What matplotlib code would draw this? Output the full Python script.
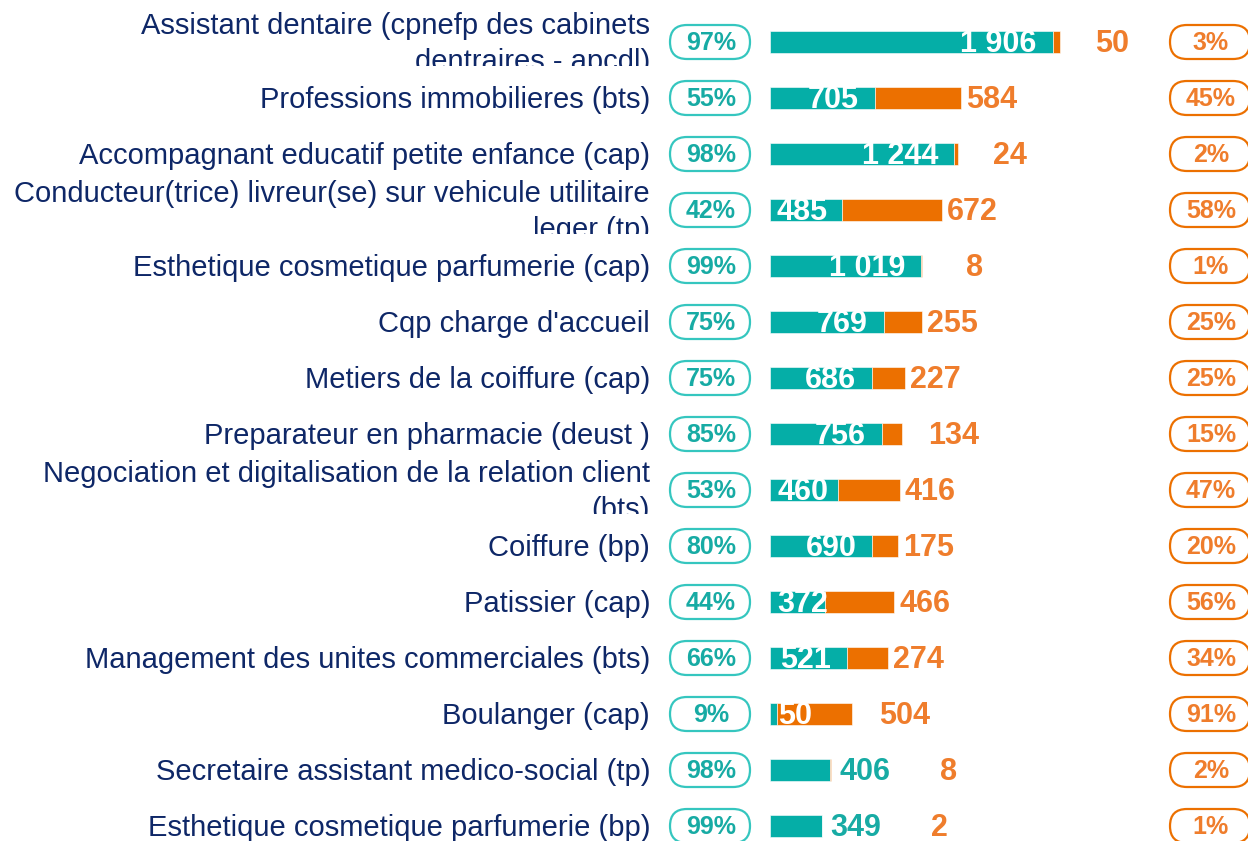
import matplotlib
matplotlib.use("Agg")
import matplotlib.pyplot as plt
from matplotlib.patches import FancyBboxPatch
from matplotlib.transforms import Bbox

plt.rcParams["font.family"] = ["Liberation Sans", "DejaVu Sans"]

labels = [
    "Assistant dentaire (cpnefp des cabinets\ndentraires - apcdl)",
    "Professions immobilieres (bts)",
    "Accompagnant educatif petite enfance (cap)",
    "Conducteur(trice) livreur(se) sur vehicule utilitaire\nleger (tp)",
    "Esthetique cosmetique parfumerie (cap)",
    "Cqp charge d'accueil",
    "Metiers de la coiffure (cap)",
    "Preparateur en pharmacie (deust )",
    "Negociation et digitalisation de la relation client\n(bts)",
    "Coiffure (bp)",
    "Patissier (cap)",
    "Management des unites commerciales (bts)",
    "Boulanger (cap)",
    "Secretaire assistant medico-social (tp)",
    "Esthetique cosmetique parfumerie (bp)",
]
teal_vals = [1906, 705, 1244, 485, 1019, 769, 686, 756, 460, 690, 372, 521, 50, 406, 349]
orange_vals = [50, 584, 24, 672, 8, 255, 227, 134, 416, 175, 466, 274, 504, 8, 2]
teal_pct = [97, 55, 98, 42, 99, 75, 75, 85, 53, 80, 44, 66, 9, 98, 99]
orange_pct = [3, 45, 2, 58, 1, 25, 25, 15, 47, 20, 56, 34, 91, 2, 1]

TEAL = "#05AEA7"
ORANGE = "#EC7000"
ORANGE_TXT = "#EF7D2C"
TEAL_TXT = "#17ABA4"
TEAL_EDGE = "#35C6BF"
NAVY = "#0E2767"

W, H = 1248, 841
ROW0, STEP = 42, 56
X0 = 770            # bar start, px
PX_PER_UNIT = 290 / 1956


def fmt(v):
    return f"{v:,}".replace(",", " ")


def row_px(i):
    return ROW0 + STEP * i


fig = plt.figure(figsize=(W / 100, H / 100), dpi=100)

# bar axes
ax = fig.add_axes([X0 / W, 0, (W - X0) / W, 1])
ax.set_xlim(0, (W - X0) / PX_PER_UNIT)
ax.set_ylim((H - ROW0) / STEP, -ROW0 / STEP)
ax.axis("off")

# overlay in pixel coords for labels / pills, drawn above the bars
ov = fig.add_axes([0, 0, 1, 1])
ov.set_xlim(0, W)
ov.set_ylim(H, 0)
ov.axis("off")
ov.set_zorder(3)

n = len(labels)
ys = list(range(n))
ax.barh(ys, teal_vals, height=0.39, color=TEAL, edgecolor="white", linewidth=0.4)
ax.barh(ys, orange_vals, left=teal_vals, height=0.39, color=ORANGE,
        edgecolor="white", linewidth=0.4)

VFS = 22
for i in range(n):
    y = row_px(i)
    # category label, clipped to its row
    two = "\n" in labels[i]
    t = ov.text(650, y + 2, labels[i], ha="right", va="center",
                ma="right", fontsize=21, color=NAVY, linespacing=1.32, clip_on=True)
    t.set_clip_box(Bbox.from_extents(0, H - (y + 24), W, H - (y - 30)))

    # pills
    for cx, pct, ec, tc in [(710, teal_pct[i], TEAL_EDGE, TEAL_TXT),
                            (1210, orange_pct[i], ORANGE, ORANGE_TXT)]:
        pw, ph = 82, 36
        ov.add_patch(FancyBboxPatch((cx - pw / 2 + 1, y - ph / 2 + 1), pw - 2, ph - 2,
                                    boxstyle="round,pad=0,rounding_size=17",
                                    fc="white", ec=ec, lw=1.6))
        ov.text(cx + 1, y + 1, f"{pct}%", ha="center", va="center",
                fontsize=18, fontweight="bold", color=tc)

    # value labels (positions derived from bar sizes, in px)
    teal_px = teal_vals[i] * PX_PER_UNIT
    orange_px = orange_vals[i] * PX_PER_UNIT
    teal_end = X0 + teal_px
    bar_end = teal_end + orange_px
    teal_outside = teal_px < 65 and orange_px < 5
    if teal_outside:
        ov.text(teal_end + 9, y + 2, fmt(teal_vals[i]), ha="left", va="center",
                fontsize=VFS, fontweight="bold", color=TEAL_TXT)
        ov.text(teal_end + 118, y + 2, fmt(orange_vals[i]), ha="center", va="center",
                fontsize=VFS, fontweight="bold", color=ORANGE_TXT)
        continue
    lw_est = 16 * len(fmt(teal_vals[i]))
    right = max(teal_end - 16, X0 + lw_est + 10)
    ov.text(right, y + 2, fmt(teal_vals[i]), ha="right", va="center",
            fontsize=VFS, fontweight="bold", color="white")
    if orange_px < 20 or teal_px < 20:
        ov.text(bar_end + 52, y + 2, fmt(orange_vals[i]), ha="center", va="center",
                fontsize=VFS, fontweight="bold", color=ORANGE_TXT)
    else:
        ov.text(bar_end + 5, y + 2, fmt(orange_vals[i]), ha="left", va="center",
                fontsize=VFS, fontweight="bold", color=ORANGE_TXT)

fig.savefig("out.png", dpi=100, facecolor="white")
